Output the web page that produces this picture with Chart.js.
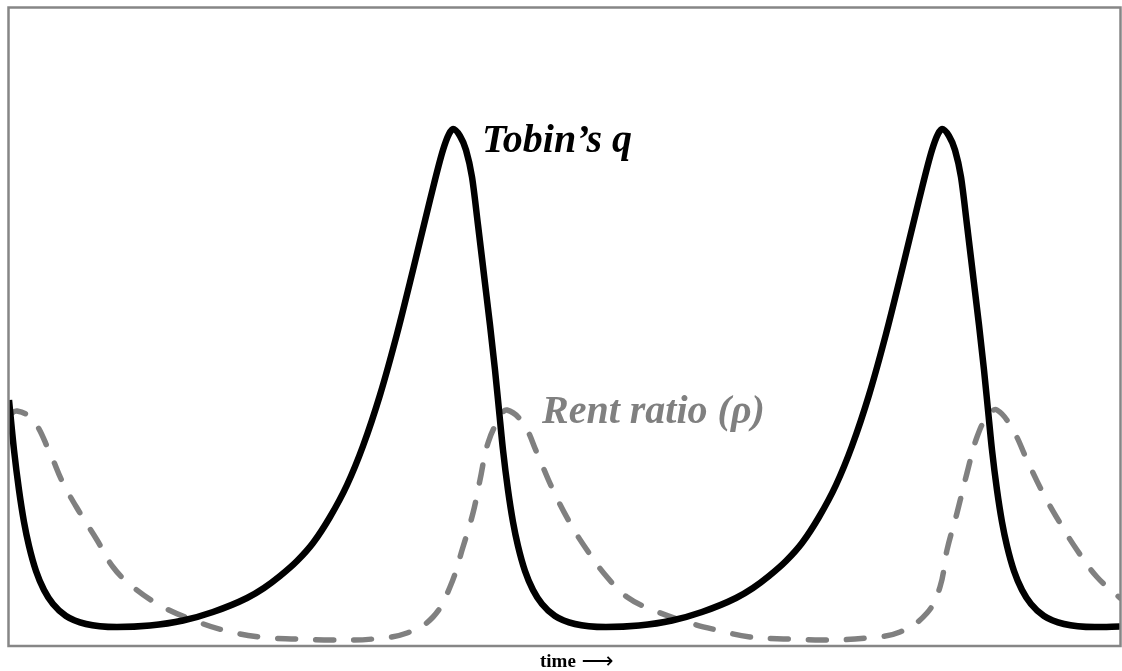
<!DOCTYPE html>
<html lang="en">
<head>
    <meta charset="UTF-8">
    <title>Tobin's q and rent ratio</title>
    <style>
        html, body { margin: 0; padding: 0; background: #fff; }
        .chart-box { width: 1122px; height: 671px; }
    </style>
    <script src="https://cdn.jsdelivr.net/npm/chart.js"></script>
</head>
<body>
    <div class="chart-box">
        <canvas id="cycleChart" width="1122" height="671"></canvas>
    </div>

    <script>
        // time values and series readings (arbitrary units)
        const qTime = [0, 0.5, 1.0, 1.5, 2.0, 2.7, 3.5, 4.4, 5.7, 7.7, 10.8, 14.1, 17.4, 20.4, 23.8, 25.5, 27.1, 28.8,
            30.4, 32.1, 33.8, 35.4, 37.1, 38.8, 40.4, 42.1, 43.4, 44.0, 44.4, 45.1, 45.7, 46.3, 46.9, 47.5, 48.1, 48.6,
            49.0, 49.4, 49.9, 50.4, 50.9, 51.6, 52.4, 53.3, 54.6, 56.6, 59.7, 63.0, 66.3, 69.3, 72.7, 74.4, 76.0, 77.7,
            79.3, 81.0, 82.7, 84.3, 86.0, 87.7, 89.3, 91.0, 92.3, 92.9, 93.3, 94.0, 94.6, 95.2, 95.8, 96.4, 97.0, 97.5,
            97.9, 98.3, 98.8, 99.3, 99.8, 100.5, 101.3, 102.2, 103.5, 105.5, 108.6, 111.1];
        const qValues = [24.6, 19.6, 15.6, 12.4, 10.0, 7.5, 5.6, 4.2, 3.0, 2.2, 1.9, 2.05, 2.55, 3.4, 4.8, 5.8, 7.0, 8.5,
            10.3, 12.9, 16.1, 20.0, 25.1, 31.2, 37.6, 44.6, 49.6, 51.2, 51.7, 51.0, 49.6, 46.9, 42.1, 37.1, 32.1, 27.6,
            23.6, 19.6, 15.6, 12.4, 10.0, 7.5, 5.6, 4.2, 3.0, 2.2, 1.9, 2.05, 2.55, 3.4, 4.8, 5.8, 7.0, 8.5,
            10.3, 12.9, 16.1, 20.0, 25.1, 31.2, 37.6, 44.6, 49.6, 51.2, 51.7, 51.0, 49.6, 46.9, 42.1, 37.1, 32.1, 27.6,
            23.6, 19.6, 15.6, 12.4, 10.0, 7.5, 5.6, 4.2, 3.0, 2.2, 1.9, 1.95];

        const rentTime = [0, 0.8, 2.4, 4.1, 5.4, 7.1, 8.8, 10.4, 12.4, 15.4, 18.4, 21.4, 25.1, 28.8, 32.4, 36.4, 39.8,
            42.4, 44.1, 45.4, 46.4, 47.1, 47.9, 49.1, 49.8, 51.4, 52.8, 54.4, 56.1, 57.8, 59.8, 61.8, 64.4, 68.1, 70.8,
            74.1, 78.1, 81.8, 85.8, 89.1, 91.8, 93.1, 93.8, 94.8, 95.8, 96.8, 97.9, 98.8, 100.4, 101.8, 103.4, 105.1,
            106.8, 108.8, 111.1];
        const rentValues = [23.1, 23.5, 22.6, 19.3, 16.3, 13.3, 10.6, 7.9, 5.9, 3.9, 2.6, 1.6, 0.9, 0.7, 0.6, 0.7, 1.3,
            2.9, 5.9, 9.9, 13.3, 16.6, 20.3, 22.9, 23.6, 22.3, 19.3, 15.6, 12.3, 9.6, 6.9, 4.9, 3.6, 2.3, 1.6,
            0.9, 0.7, 0.6, 0.8, 1.4, 3.3, 5.9, 9.6, 13.3, 17.3, 20.9, 23.1, 23.6, 21.6, 18.6, 15.3, 12.3,
            9.6, 6.9, 4.8];

        const timeMax = 111.1;
        const valueMax = 63.8;

        function toPoints(xs, ys) {
            return xs.map((x, i) => ({ x: x, y: ys[i] }));
        }

        // frame, series labels and the time caption
        const decorPlugin = {
            id: 'decor',
            afterDraw(chart) {
                const ctx = chart.ctx;
                const area = chart.chartArea;
                const xs = chart.scales.x;
                const ys = chart.scales.y;
                ctx.save();

                ctx.strokeStyle = '#868686';
                ctx.lineWidth = 2.5;
                ctx.strokeRect(area.left - 0.5, area.top - 0.5, area.right - area.left + 1, area.bottom - area.top + 0.5);

                ctx.textBaseline = 'alphabetic';
                ctx.textAlign = 'left';
                ctx.font = 'italic bold 40px "Liberation Serif", "Times New Roman", serif';
                ctx.fillStyle = '#000';
                ctx.fillText('Tobin\u2019s q', xs.getPixelForValue(47.3), ys.getPixelForValue(49.4));
                ctx.fillStyle = '#808080';
                ctx.fillText('Rent ratio (\u03c1)', xs.getPixelForValue(53.3), ys.getPixelForValue(22.3));

                // x caption
                ctx.fillStyle = '#000';
                ctx.font = 'bold 19px "Liberation Serif", "Times New Roman", serif';
                const cx = 540, cy = 667;
                ctx.fillText('time', cx, cy);
                const w = ctx.measureText('time ').width;
                ctx.font = '100px "DejaVu Sans"';
                const aw = ctx.measureText('\u27f6').width;
                const size = 100 * 32 / aw;
                ctx.font = size + 'px "DejaVu Sans"';
                ctx.fillText('\u27f6', cx + w + 1, cy + 1);
                ctx.restore();
            }
        };

        const chart = new Chart(document.getElementById('cycleChart').getContext('2d'), {
            type: 'line',
            data: {
                datasets: [
                    {
                        label: "Tobin's q",
                        data: toPoints(qTime, qValues),
                        borderColor: '#000000',
                        borderWidth: 6.5,
                        cubicInterpolationMode: 'monotone',
                        pointRadius: 0,
                        fill: false,
                        order: 0
                    },
                    {
                        label: 'Rent ratio (\u03c1)',
                        data: toPoints(rentTime, rentValues),
                        borderColor: '#808080',
                        borderWidth: 5.5,
                        borderDash: [18, 20],
                        borderCapStyle: 'round',
                        tension: 0.4,
                        pointRadius: 0,
                        fill: false,
                        order: 1
                    }
                ]
            },
            options: {
                responsive: false,
                animation: false,
                devicePixelRatio: 1,
                layout: { padding: { left: 9, right: 2, top: 8, bottom: 25 } },
                scales: {
                    x: { type: 'linear', min: 0, max: timeMax, display: false },
                    y: { type: 'linear', min: 0, max: valueMax, display: false }
                },
                plugins: {
                    legend: { display: false },
                    tooltip: { enabled: false }
                }
            },
            plugins: [decorPlugin]
        });
    </script>
</body>
</html>
